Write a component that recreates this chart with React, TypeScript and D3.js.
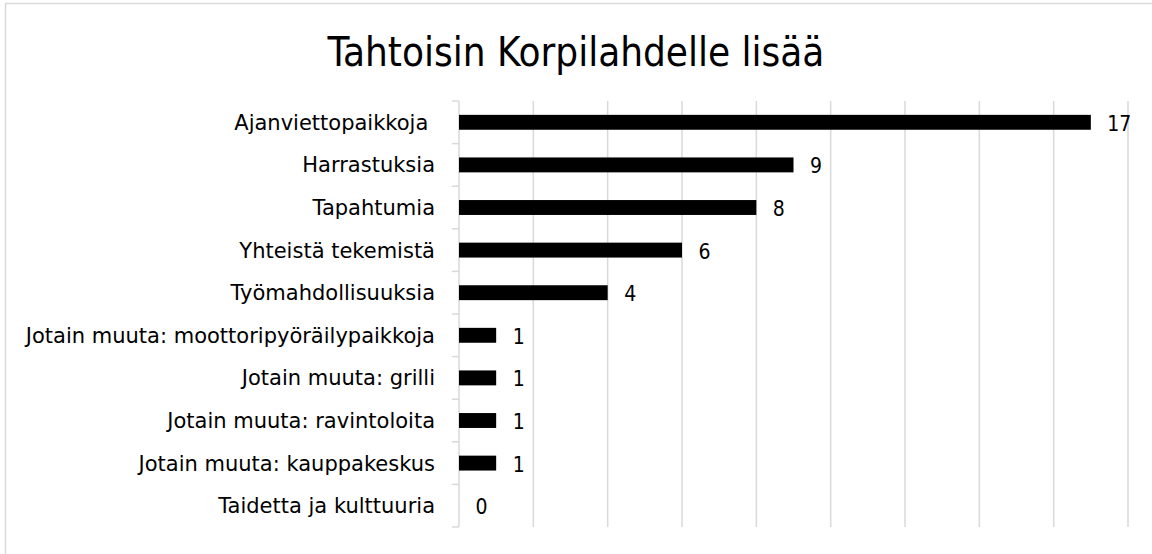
import React from "react";
import * as d3 from "d3";

const categories = [
  "Ajanviettopaikkoja ",
  "Harrastuksia",
  "Tapahtumia",
  "Yhteistä tekemistä",
  "Työmahdollisuuksia",
  "Jotain muuta: moottoripyöräilypaikkoja",
  "Jotain muuta: grilli",
  "Jotain muuta: ravintoloita",
  "Jotain muuta: kauppakeskus",
  "Taidetta ja kulttuuria",
];
const values = [17, 9, 8, 6, 4, 1, 1, 1, 1, 0];
const xTicks = [0, 2, 4, 6, 8, 10, 12, 14, 16, 18];
const title = "Tahtoisin Korpilahdelle lisää";

const W = 1152;
const H = 554;

export default function App() {
  const x = d3.scaleLinear().domain([0, 18]).range([459, 1128]);
  const y = d3
    .scaleBand<string>()
    .domain(categories)
    .range([101, 527])
    .paddingInner(0.65)
    .paddingOuter(0.325);
  const step = y.step();
  const boundaries = d3.range(categories.length + 1).map((i) => 101 + i * step);
  const grid = "#d9d9d9";
  return (
    <svg
      width={W}
      height={H}
      style={{ position: "absolute", left: 0, top: 0, background: "#fff" }}
    >
      <rect x={0} y={0} width={W} height={H} fill="#fff" />
      <rect x={5.5} y={3.5} width={W + 20} height={H + 20} fill="none" stroke={grid} strokeWidth={1.5} />
      <text
        x={576}
        y={66}
        textAnchor="middle"
        fontFamily="'DejaVu Sans'"
        fontStretch="condensed"
        fontSize={40}
        fill="#000"
      >
        {title}
      </text>
      {xTicks.map((t) => (
        <line key={t} x1={x(t)} x2={x(t)} y1={101} y2={527} stroke={grid} strokeWidth={1.5} />
      ))}
      {boundaries.map((b, i) => (
        <line key={i} x1={452} x2={x(0)} y1={b} y2={b} stroke={grid} strokeWidth={1.5} />
      ))}
      {categories.map((c, i) => (
        <g key={c}>
          <rect
            x={x(0)}
            y={y(c)!}
            width={x(values[i]) - x(0)}
            height={y.bandwidth()}
            fill="#000"
          />
          <text
            x={435}
            y={y(c)! + y.bandwidth() / 2}
            dy="0.36em"
            textAnchor="end"
            fontFamily="'DejaVu Sans'"
            fontSize={21}
            fill="#000"
            xmlSpace="preserve"
          >
            {c}
          </text>
          <text
            x={x(values[i]) + 16.5}
            y={y(c)! + y.bandwidth() / 2 + 1}
            dy="0.36em"
            fontFamily="'DejaVu Sans'"
            fontStretch="condensed"
            fontSize={21}
            fill="#000"
          >
            {values[i]}
          </text>
        </g>
      ))}
    </svg>
  );
}
